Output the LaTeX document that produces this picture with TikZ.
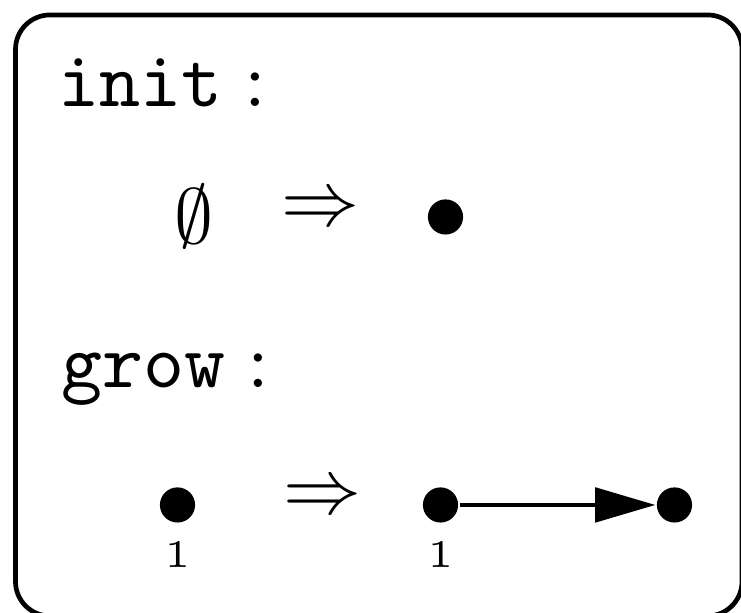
\documentclass[tikz,border=0pt]{standalone}
\usepackage{tikz}
\usetikzlibrary{arrows.meta, positioning}

\begin{document}
\begin{tikzpicture}[
    x=0.128pt, y=-0.128pt,
    vertex/.style={circle, fill=black, inner sep=0pt, minimum size=4.5pt},
    rulename/.style={anchor=base west, inner sep=0pt},
    sym/.style={inner sep=0pt},
    lbl/.style={font=\tiny, inner sep=0pt},
    edge/.style={-{Triangle[length=7.7pt, width=4.4pt]}, line width=0.5pt}
]
\useasboundingbox (0,0) rectangle (741,613);
\draw[line width=0.6pt, rounded corners=4.4pt] (15.5,15) rectangle (742,616);

% init rule
\node[rulename] (init) at (57,107) {$\mathtt{init}:$};
\node[sym] (empty) at (194,216.5) {$\emptyset$};
\node[sym] (imp1) at (320.5,211.7) {$\Rightarrow$};
\node[vertex] (v) at (445.5,217) {};

% grow rule
\node[rulename] (grow) at (60,388) {$\mathtt{grow}:$};
\node[vertex] (a) at (177.5,505) {};
\node[lbl, below=2pt of a] (a1) {1};
\node[sym] (imp2) at (323,499.5) {$\Rightarrow$};
\node[vertex] (b) at (440.5,505) {};
\node[lbl, below=2pt of b] (b1) {1};
\node[vertex] (c) at (674.5,505) {};

\draw[edge] (b) -- (c);
\end{tikzpicture}
\end{document}
